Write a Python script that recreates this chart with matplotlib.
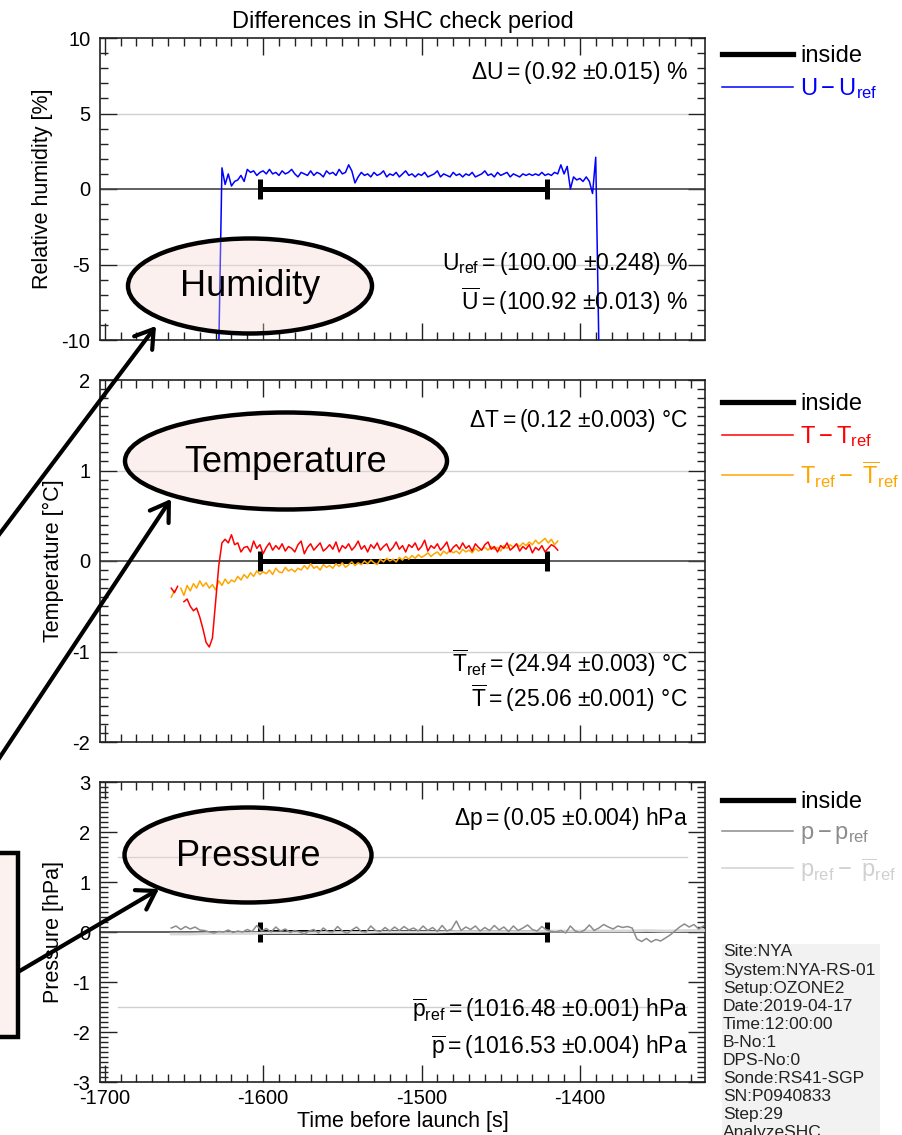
import numpy as np
import matplotlib
matplotlib.use('Agg')
import matplotlib.pyplot as plt
from matplotlib.patches import Ellipse, Rectangle, FancyArrowPatch
from matplotlib.lines import Line2D
from matplotlib.ticker import MultipleLocator

plt.rcParams['font.family'] = ['Liberation Sans', 'DejaVu Sans']
plt.rcParams['mathtext.fontset'] = 'custom'
plt.rcParams['mathtext.rm'] = 'Liberation Sans'
plt.rcParams['mathtext.it'] = 'Liberation Sans:italic'
plt.rcParams['mathtext.bf'] = 'Liberation Sans:bold'
plt.rcParams['axes.unicode_minus'] = False

# ---- data ----
inside_period = [-1602, -1421]          # start / end of the "inside" window [s]

# relative humidity difference U - Uref [%], sampled every 2 s from -1628 s
rh_t0, rh_dt = -1628, 2
rh_diff = [
    -10.5, 1.4, 0.3, 1.0, 0.2, 0.5, 0.6, 0.9, 0.5, 1.3,
    1.1, 1.2, 0.9, 1.1, 1.2, 1.0, 1.3, 1.0, 1.1, 0.9,
    1.2, 1.0, 1.1, 1.3, 1.0, 0.8, 1.1, 1.0, 0.9, 1.2,
    0.9, 1.1, 1.0, 0.8, 1.2, 1.0, 1.1, 0.9, 1.3, 1.0,
    1.1, 1.6, 1.2, 0.4, 0.8, 1.1, 0.9, 1.0, 0.8, 1.1,
    0.9, 1.0, 1.2, 0.8, 1.0, 0.9, 1.1, 0.8, 1.0, 1.2,
    0.9, 1.0, 0.8, 1.0, 0.9, 1.1, 0.8, 0.9, 1.0, 1.2,
    0.8, 1.0, 0.9, 0.8, 1.1, 0.9, 1.0, 0.8, 1.0, 0.9,
    1.1, 0.8, 0.9, 1.0, 1.2, 0.9, 1.0, 0.8, 1.1, 0.9,
    1.0, 1.1, 0.8, 1.0, 0.9, 0.8, 1.0, 0.9, 1.0, 0.9,
    1.0, 0.9, 1.1, 0.9, 1.0, 0.9, 1.1, 1.0, 1.6, 1.0,
    1.5, 0.0, 0.8, 0.6, 0.7, 0.5, 0.8, 0.5, -0.3, 2.1, -10.5,
]

# temperature differences [degC], every 2 s from -1658 s
t_t0, t_dt = -1658, 2
t_diff = [  # T - Tref
    -0.30, -0.35, -0.28, np.nan, -0.45, -0.42, -0.50, -0.55, -0.52, -0.62,
    -0.75, -0.90, -0.95, -0.85, -0.45, -0.05, 0.20, 0.24, 0.20, 0.29,
    0.18, 0.20, 0.10, 0.15,
    0.16, 0.10, 0.22, 0.14, 0.18, 0.08, 0.15, 0.20, 0.12, 0.17,
    0.13, 0.19, 0.11, 0.16, 0.14, 0.10, 0.18, 0.22, 0.08, 0.15,
    0.19, 0.12, 0.16, 0.20, 0.11, 0.14, 0.18, 0.13, 0.21, 0.10,
    0.17, 0.14, 0.19, 0.12, 0.16, 0.22, 0.13, 0.17, 0.10, 0.18,
    0.14, 0.20, 0.12, 0.16, 0.19, 0.11, 0.15, 0.21, 0.13, 0.17,
    0.10, 0.18, 0.15, 0.20, 0.12, 0.16, 0.23, 0.11, 0.17, 0.14,
    0.19, 0.12, 0.16, 0.21, 0.10, 0.15, 0.18, 0.13, 0.20, 0.14,
    0.17, 0.11, 0.19, 0.15, 0.12, 0.18, 0.21, 0.13, 0.16, 0.10,
    0.17, 0.14, 0.20, 0.12, 0.15, 0.19, 0.11, 0.16, 0.13, 0.18,
    0.09, 0.15, 0.12, 0.17, 0.10, 0.14, 0.18, 0.16, 0.12,
]
tref_anom = [  # Tref - mean(Tref)
    -0.40, -0.33, np.nan, -0.30, -0.38, -0.27, -0.33, -0.25, -0.30, -0.22,
    -0.28, -0.24, -0.30, -0.26, -0.32, -0.22, -0.27, -0.20, -0.25, -0.21,
    -0.23, -0.17, -0.21, -0.15, -0.19, -0.13, -0.17, -0.11, -0.15, -0.12,
    -0.14, -0.10, -0.15, -0.08, -0.12, -0.13, -0.07, -0.11, -0.09, -0.12,
    -0.08, -0.10, -0.05, -0.09, -0.03, -0.08, -0.06, -0.10, -0.04, -0.07,
    -0.05, -0.08, -0.03, -0.06, -0.02, -0.07, -0.04, -0.01, -0.05, -0.02,
    -0.04, 0.00, -0.03, 0.01, -0.02, -0.04, 0.02, -0.01, 0.03, 0.00,
    0.02, -0.01, 0.04, 0.01, 0.05, 0.02, 0.06, 0.03, 0.07, 0.04,
    0.06, 0.09, 0.05, 0.08, 0.10, 0.06, 0.11, 0.08, 0.12, 0.09,
    0.11, 0.08, 0.13, 0.10, 0.12, 0.09, 0.14, 0.11, 0.13, 0.15,
    0.12, 0.16, 0.13, 0.15, 0.11, 0.17, 0.14, 0.18, 0.15, 0.19,
    0.16, 0.20, 0.17, 0.21, 0.18, 0.23, 0.19, 0.22, 0.25, 0.20,
    0.24, 0.18, 0.22,
]

# pressure differences [hPa], every 3 s from -1658 s
p_t0, p_dt = -1658, 3
p_diff = [  # p - pref
    0.08, 0.12, 0.05, 0.11, 0.06, 0.10, 0.04, 0.03, 0.00, -0.02,
    0.01, 0.00, 0.04, -0.01, 0.02, 0.00, 0.05, 0.01, 0.13, 0.02,
    0.07, 0.00, 0.10, 0.02, 0.06, -0.01, 0.03, 0.00, -0.04, 0.02,
    0.05, -0.02, 0.08, 0.01, 0.00, 0.11, 0.02, -0.03, 0.04, 0.10,
    0.01, 0.00, 0.12, 0.03, 0.01, 0.09, 0.02, 0.10, 0.03, 0.11,
    0.04, 0.08, 0.02, 0.12, 0.03, 0.09, 0.01, 0.13, 0.02, 0.06,
    0.22, 0.03, 0.10, 0.05, 0.12, 0.02, 0.09, 0.03, 0.13, 0.04,
    0.10, 0.01, 0.12, 0.03, 0.08, 0.14, 0.05, 0.02, 0.11, 0.04,
    0.01, 0.00, 0.03, -0.02, 0.12, 0.02, -0.01, 0.04, 0.14, 0.03,
    0.08, 0.15, 0.10, 0.06, 0.12, 0.09, 0.11, 0.08, -0.14, -0.19,
    -0.13, -0.20, -0.15, -0.18, -0.12, -0.06, 0.02, 0.10, 0.16, 0.10,
    0.15, 0.06, 0.12,
]
# pref - mean(pref), every 12 s from -1658 s
pref_t0, pref_dt = -1658, 12
pref_anom = [
    -0.04, -0.04, -0.03, -0.03, -0.03, -0.02, -0.02, -0.02, -0.01, -0.01,
    -0.01, 0.00, 0.00, 0.00, 0.00, 0.01, 0.01, 0.01, 0.01, 0.01,
    0.02, 0.02, 0.02, 0.02, 0.02, 0.03, 0.02, 0.03, 0.03,
]

stats_rh = [r'$\Delta\mathrm{U}=$(0.92 $\pm$0.015) %',
            r'$\mathrm{U_{ref}}=$(100.00 $\pm$0.248) %',
            r'$\overline{\mathrm{U}}=$(100.92 $\pm$0.013) %']
stats_t = [r'$\Delta\mathrm{T}=$(0.12 $\pm$0.003) °C',
           r'$\overline{\mathrm{T}}_{\mathrm{ref}}=$(24.94 $\pm$0.003) °C',
           r'$\overline{\mathrm{T}}=$(25.06 $\pm$0.001) °C']
stats_p = [r'$\Delta\mathrm{p}=$(0.05 $\pm$0.004) hPa',
           r'$\overline{\mathrm{p}}_{\mathrm{ref}}=$(1016.48 $\pm$0.001) hPa',
           r'$\overline{\mathrm{p}}=$(1016.53 $\pm$0.004) hPa']

info_lines = ['Site:NYA', 'System:NYA-RS-01', 'Setup:OZONE2', 'Date:2019-04-17',
              'Time:12:00:00', 'B-No:1', 'DPS-No:0', 'Sonde:RS41-SGP',
              'SN:P0940833', 'Step:29', 'AnalyzeSHC']

bubble_labels = ['Humidity', 'Temperature', 'Pressure']

# ---- figure ----
W, H = 902, 1135
fig = plt.figure(figsize=(W / 100, H / 100), dpi=100)

def px_axes(top, bottom, left=100, right=705):
    return fig.add_axes([left / W, 1 - bottom / H, (right - left) / W, (bottom - top) / H])

ax_u = px_axes(38, 340)
ax_t = px_axes(380, 742)
ax_p = px_axes(782, 1082)

XLIM = (-1703, -1321)
GRID_C = '#d0d0d0'
AX_C = '#222222'


def style_axis(ax, ylim, ymaj, ymin, grid_y, ylabel, show_x=False):
    ax.set_xlim(*XLIM)
    ax.set_ylim(*ylim)
    ax.xaxis.set_major_locator(MultipleLocator(100))
    ax.xaxis.set_minor_locator(MultipleLocator(10))
    ax.yaxis.set_major_locator(MultipleLocator(ymaj))
    ax.yaxis.set_minor_locator(MultipleLocator(ymin))
    ax.tick_params(which='both', direction='in', top=True, right=True,
                   width=1.0, color=AX_C)
    ax.tick_params(which='major', length=12.5, labelsize=14.5)
    ax.tick_params(which='minor', length=6)
    ax.tick_params(axis='y', pad=7)
    ax.tick_params(axis='x', pad=5, labelbottom=show_x)
    for s in ax.spines.values():
        s.set_linewidth(1.2)
        s.set_color(AX_C)
    for g in grid_y:
        ax.axhline(g, xmin=0.03, xmax=0.97, color=GRID_C, lw=1, zorder=1)
    ax.axhline(0, color='#444444', lw=1.2, zorder=2)
    ax.set_ylabel(ylabel, fontsize=15.5, labelpad=6)
    ax.plot(inside_period, [0, 0], color='black', lw=3.6, marker='|',
            ms=15, mew=3.6, solid_capstyle='butt', zorder=3)


def add_stats(ax, lines, ys):
    for txt, y in zip(lines, ys):
        ax.text(0.972, y, txt, transform=ax.transAxes, ha='right', va='center',
                fontsize=16.5, zorder=5)


def add_legend(ax, handles, top_px):
    ax.legend(handles=handles, loc='upper left',
              bbox_to_anchor=(722 / W, 1 - top_px / H), bbox_transform=fig.transFigure,
              frameon=False, fontsize=17, handlelength=3.0, handletextpad=0.3,
              labelspacing=0.4, borderpad=0, borderaxespad=0, labelcolor='linecolor')


def inside_handle():
    return Line2D([], [], color='black', lw=3.8, label='inside')


# humidity
style_axis(ax_u, (-10, 10), 5, 1, [5, -5], 'Relative humidity [%]')
rh_t = rh_t0 + rh_dt * np.arange(len(rh_diff))
ax_u.plot(rh_t, rh_diff, color='#0000ff', lw=1.1, zorder=4)
ax_u.set_title('Differences in SHC check period', fontsize=17, pad=7)
add_stats(ax_u, stats_rh, [0.885, 0.253, 0.130])
add_legend(ax_u, [inside_handle(),
                  Line2D([], [], color='#0000ff', lw=1.1, label=r'$\mathrm{U-U_{ref}}$')], 45)

# temperature
style_axis(ax_t, (-2, 2), 1, 0.1, [1, -1], 'Temperature [°C]')
t_t = t_t0 + t_dt * np.arange(len(t_diff))
ax_t.plot(t_t, tref_anom, color='#ffa500', lw=1.1, zorder=4)
ax_t.plot(t_t, t_diff, color='#ff0000', lw=1.1, zorder=4)
add_stats(ax_t, stats_t, [0.887, 0.219, 0.122])
add_legend(ax_t, [inside_handle(),
                  Line2D([], [], color='#ff0000', lw=1.1, label=r'$\mathrm{T-T_{ref}}$'),
                  Line2D([], [], color='#ffa500', lw=1.1,
                         label=r'$\mathrm{T_{ref}}-\ \overline{\mathrm{T}}_{\mathrm{ref}}$')], 393)

# pressure
style_axis(ax_p, (-3, 3), 1, 0.1, [1.5, -1.5], 'Pressure [hPa]', show_x=True)
pref_t = pref_t0 + pref_dt * np.arange(len(pref_anom))
p_t = p_t0 + p_dt * np.arange(len(p_diff))
ax_p.plot(pref_t, pref_anom, color='#d8d8d8', lw=2.0, zorder=3.5)
ax_p.plot(p_t, p_diff, color='#8c8c8c', lw=1.1, zorder=4)
ax_p.set_xlabel('Time before launch [s]', fontsize=15.5, labelpad=2)
add_stats(ax_p, stats_p, [0.877, 0.240, 0.117])
add_legend(ax_p, [inside_handle(),
                  Line2D([], [], color='#8c8c8c', lw=1.1, label=r'$\mathrm{p-p_{ref}}$'),
                  Line2D([], [], color='#d0d0d0', lw=1.1,
                         label=r'$\mathrm{p_{ref}}-\ \overline{\mathrm{p}}_{\mathrm{ref}}$')], 791)

# ---- overlay in pixel coordinates: info box, callout bubbles and arrows ----
ov = fig.add_axes([0, 0, 1, 1], zorder=10)
ov.set_xlim(0, W)
ov.set_ylim(H, 0)
ov.axis('off')
ov.patch.set_alpha(0)

ov.add_patch(Rectangle((722, 944), 158, 200, facecolor='#f2f2f2', edgecolor='none'))
for i, line in enumerate(info_lines):
    ov.text(723, 952 + 18.1 * i, line, fontsize=12.5, va='center', ha='left', color='#222222')

bubble_fill = (0.957, 0.84, 0.81, 0.35)
bubbles = [((250, 286), 244, 95), ((286, 461), 322, 97), ((248, 855), 247, 95)]
for (c, w, h), lab in zip(bubbles, bubble_labels):
    ov.add_patch(Ellipse(c, w, h, facecolor=bubble_fill, edgecolor='black', lw=3.2))
    ov.text(c[0], c[1] + 1, lab, fontsize=26, ha='center', va='center')

ov.add_patch(Rectangle((-20, 853), 38, 184, facecolor=(0.99, 0.945, 0.935),
                       edgecolor='black', lw=3.2))

arrows = [((-2, 536), (156, 326)), ((-2, 760), (171, 499)), ((18, 972), (159, 889))]
for a, b in arrows:
    ov.add_patch(FancyArrowPatch(a, b, arrowstyle='->,head_length=0.7,head_width=0.45',
                                 mutation_scale=18, lw=3.0, color='black',
                                 shrinkA=0, shrinkB=0, capstyle='round', joinstyle='round'))

fig.savefig('out.png', dpi=100)
